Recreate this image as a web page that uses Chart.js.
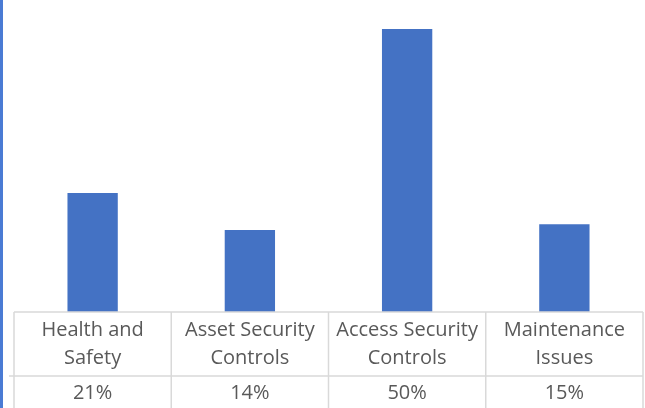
<!DOCTYPE html>
<html>
<head>
<meta charset="utf-8">
<script src="https://cdn.jsdelivr.net/npm/chart.js@4"></script>
<style>
  html, body { margin: 0; padding: 0; background: #fff; }
  #wrap { position: relative; width: 645px; height: 408px; }
</style>
</head>
<body>
<div id="wrap"><canvas id="canvas"></canvas></div>
<script>
// data
var categories = [['Health and', 'Safety'], ['Asset Security', 'Controls'], ['Access Security', 'Controls'], ['Maintenance', 'Issues']];
var shares = [21, 14.5, 50, 15.5];
var shareLabels = ['21%', '14%', '50%', '15%'];

var gridColor = '#d9d9d9';
var textColor = '#595959';
var textFont = '20px "Open Sans", "Noto Sans", sans-serif';

// draws the data table under the bars, using the x scale for the columns
var dataTable = {
  id: 'dataTable',
  afterDraw: function(chart) {
    var ctx = chart.ctx;
    var x = chart.scales.x;
    var area = chart.chartArea;
    var top = area.bottom;
    var mid = top + 64;
    var bottom = chart.height;
    var half = (x.getPixelForValue(1) - x.getPixelForValue(0)) / 2;

    ctx.save();
    // blue left edge
    ctx.fillStyle = '#4a7bd4';
    ctx.fillRect(0, 0, 3, chart.height);

    ctx.strokeStyle = gridColor;
    ctx.lineWidth = 1.5;
    ctx.beginPath();
    ctx.moveTo(area.left, top);
    ctx.lineTo(area.right, top);
    ctx.moveTo(area.left - 5, mid);
    ctx.lineTo(area.right, mid);
    for (var i = 0; i < categories.length; i++) {
      var lx = x.getPixelForValue(i) - half;
      ctx.moveTo(lx, top);
      ctx.lineTo(lx, bottom);
    }
    ctx.moveTo(area.right, top);
    ctx.lineTo(area.right, bottom);
    ctx.stroke();

    ctx.fillStyle = textColor;
    ctx.font = textFont;
    ctx.textAlign = 'center';
    ctx.textBaseline = 'middle';
    for (var j = 0; j < categories.length; j++) {
      var cx = x.getPixelForValue(j);
      ctx.fillText(categories[j][0], cx, top + 18);
      ctx.fillText(categories[j][1], cx, top + 46);
      ctx.fillText(shareLabels[j], cx, mid + 17);
    }
    ctx.restore();
  }
};

var config = {
  type: 'bar',
  data: {
    labels: categories,
    datasets: [{
      label: 'Share',
      data: shares,
      backgroundColor: '#4472c4',
      borderWidth: 0,
      barPercentage: 0.32,
      categoryPercentage: 1
    }]
  },
  options: {
    responsive: true,
    maintainAspectRatio: false,
    animation: false,
    layout: { padding: { left: 14, right: 2, top: 0, bottom: 96 } },
    plugins: {
      legend: { display: false },
      tooltip: { enabled: false }
    },
    scales: {
      x: { display: false },
      y: { display: false, min: 0, max: 55.1 }
    }
  },
  plugins: [dataTable]
};

window.onload = function() {
  var ctx = document.getElementById('canvas').getContext('2d');
  window.myBar = new Chart(ctx, config);
};
</script>
</body>
</html>
